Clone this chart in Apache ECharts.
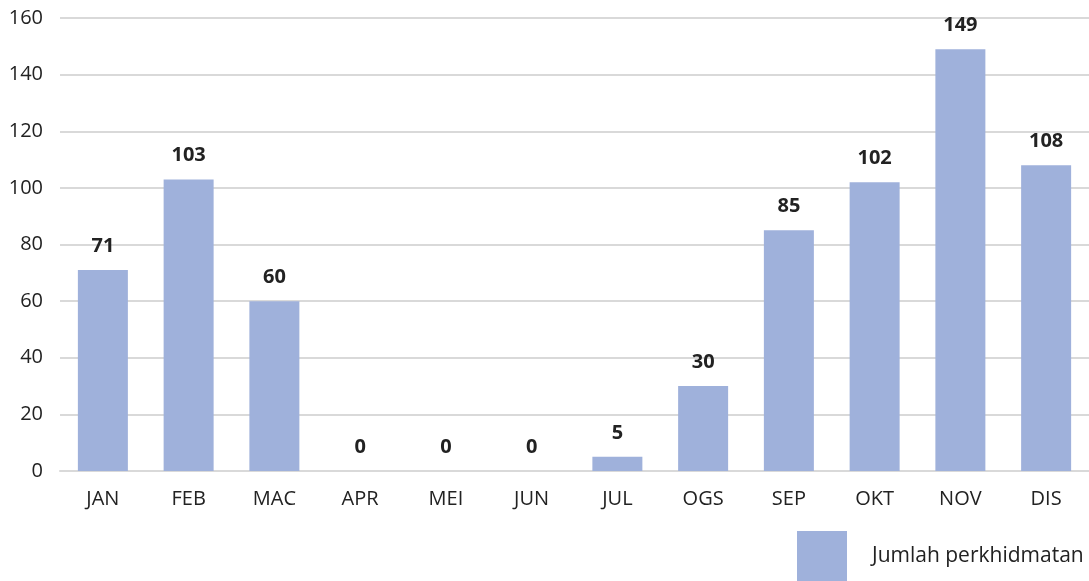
<!DOCTYPE html>
<html>
<head>
<meta charset="utf-8">
<script src="https://cdn.jsdelivr.net/npm/echarts@6/dist/echarts.min.js"></script>
<style>
html,body{margin:0;padding:0;background:#fff;}
#chart{width:1089px;height:581px;}
</style>
</head>
<body>
<div id="chart"></div>
<script>
var months = ['JAN','FEB','MAC','APR','MEI','JUN','JUL','OGS','SEP','OKT','NOV','DIS'];
var jumlah = [71, 103, 60, 0, 0, 0, 5, 30, 85, 102, 149, 108];
var seriesName = 'Jumlah perkhidmatan';

var chart = echarts.init(document.getElementById('chart'));
var font = '"Open Sans", "Noto Sans", sans-serif';
var option = {
    animation: false,
    textStyle: { fontFamily: font },
    grid: { left: 60, right: 0, top: 18, bottom: 110 },
    legend: {
        data: [seriesName],
        left: 797,
        top: 531,
        padding: 0,
        itemWidth: 50,
        itemHeight: 50,
        icon: 'rect',
        textStyle: { fontFamily: font, fontSize: 21, color: '#222', padding: [0, 0, 0, 20] }
    },
    xAxis: {
        type: 'category',
        data: months,
        axisLine: { lineStyle: { color: '#d9d9d9', width: 2 } },
        axisTick: { show: false },
        axisLabel: { fontFamily: font, fontSize: 20, color: '#222', margin: 18 }
    },
    yAxis: {
        type: 'value',
        min: 0,
        max: 160,
        interval: 20,
        axisLine: { show: false },
        axisTick: { show: false },
        splitLine: { lineStyle: { color: '#d9d9d9', width: 2 } },
        axisLabel: { fontFamily: font, fontSize: 20, color: '#222', margin: 17 }
    },
    series: [{
        name: seriesName,
        type: 'bar',
        data: jumlah,
        barWidth: 50,
        itemStyle: { color: '#9fb1db' },
        label: {
            show: true,
            position: 'top',
            distance: 14,
            fontFamily: font,
            fontSize: 20,
            fontWeight: 'bold',
            color: '#222'
        }
    }]
};
chart.setOption(option);
</script>
</body>
</html>
